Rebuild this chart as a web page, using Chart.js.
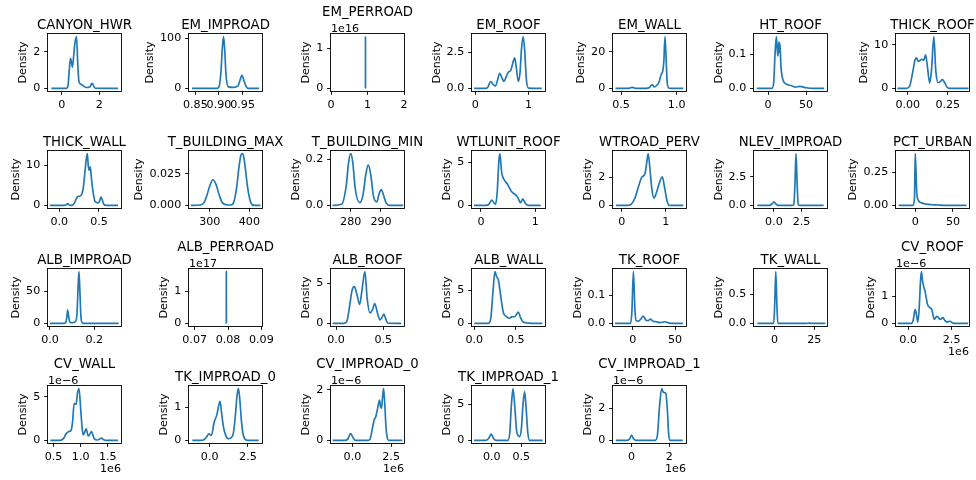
<!DOCTYPE html>
<html>
<head>
<meta charset="utf-8">
<script src="https://cdn.jsdelivr.net/npm/chart.js@4"></script>
<style>
  body { margin: 0; background: #fff; width: 976px; height: 480px; position: relative; overflow: hidden; }
  canvas { position: absolute; }
</style>
</head>
<body>
<script>
/* [ Density curves] */
const CANYON_HWR_x = [-0.55, 0.25, 0.33, 0.4, 0.47, 0.53, 0.57, 0.63, 0.7, 0.79, 0.86, 0.92, 1.05, 1.3, 1.5, 1.58, 1.63, 1.7, 1.8, 3.0];
const CANYON_HWR_y = [0, 0, 0.1, 0.95, 1.63, 1.36, 1.15, 1.68, 2.42, 2.82, 1.26, 0.37, 0.21, 0.05, 0.08, 0.23, 0.28, 0.13, 0.01, 0];

const EM_IMPROAD_x = [0.843, 0.895, 0.9, 0.904, 0.907, 0.9095, 0.912, 0.915, 0.92, 0.93, 0.94, 0.944, 0.9486, 0.953, 0.958, 0.962, 0.985];
const EM_IMPROAD_y = [0, 0, 3, 31, 79, 104, 79, 26, 3, 2, 5, 15, 26, 15, 3, 0, 0];

const EM_PERROAD_x = [0.944, 0.9445, 0.945];
const EM_PERROAD_y = [0, 1.29, 0];

const EM_ROOF_x = [-0.02, 0.2, 0.24, 0.29, 0.34, 0.38, 0.42, 0.46, 0.5, 0.54, 0.58, 0.62, 0.67, 0.71, 0.74, 0.77, 0.81, 0.84, 0.87, 0.9, 0.93, 0.96, 1.0, 1.25];
const EM_ROOF_y = [0, 0, 0.1, 0.48, 0.27, 0.16, 0.59, 1.05, 0.75, 0.48, 0.8, 1.12, 1.28, 1.82, 2.12, 1.5, 0.48, 1.07, 2.78, 3.6, 2.57, 0.64, 0.02, 0];

const EM_WALL_x = [0.45, 0.57, 0.6, 0.63, 0.7, 0.75, 0.78, 0.8, 0.82, 0.84, 0.86, 0.875, 0.885, 0.895, 0.905, 0.915, 0.93, 0.95, 1.06];
const EM_WALL_y = [0, 0, 0.6, 0, 0, 0.3, 2.1, 0.8, 1.6, 3.2, 7.4, 9.5, 14.7, 28.2, 16.8, 3.2, 0.2, 0, 0];

const HT_ROOF_x = [-15, 5, 7.5, 9, 10.9, 12, 13, 14.3, 15, 15.6, 17, 19.5, 22, 26, 32, 36, 42, 50, 60, 74];
const HT_ROOF_y = [0, 0, 0.02, 0.095, 0.152, 0.116, 0.095, 0.137, 0.106, 0.132, 0.063, 0.026, 0.016, 0.011, 0.007, 0.004, 0.006, 0.002, 0, 0];

const THICK_ROOF_x = [-0.065, -0.01, 0.01, 0.03, 0.045, 0.055, 0.065, 0.075, 0.087, 0.1, 0.111, 0.122, 0.137, 0.148, 0.163, 0.175, 0.19, 0.2, 0.215, 0.228, 0.245, 0.26, 0.38];
const THICK_ROOF_y = [0, 0, 0.4, 3.6, 6.5, 7.0, 6.2, 6.4, 6.7, 6.5, 7.7, 5.2, 1.25, 4.1, 11.9, 4.1, 1.35, 1.45, 2.0, 1.55, 0.3, 0, 0];

const THICK_WALL_x = [-0.12, 0.06, 0.09, 0.105, 0.12, 0.15, 0.18, 0.2, 0.227, 0.25, 0.28, 0.3, 0.32, 0.335, 0.353, 0.365, 0.375, 0.39, 0.405, 0.42, 0.45, 0.49, 0.51, 0.525, 0.54, 0.56, 0.59, 0.74];
const THICK_WALL_y = [0, 0, 0.2, 0.46, 0.2, 0, 0.3, 1.03, 2.06, 2.27, 2.68, 4.1, 7.7, 10.8, 12.9, 9.8, 8.8, 9.6, 6.7, 4.1, 1.03, 0.62, 1.24, 2.06, 1.44, 0.3, 0, 0];

const T_BUILDING_MAX_x = [252, 275, 285, 292, 300, 308, 316, 324, 332, 345, 355, 362, 368, 374, 378, 382, 386, 390, 396, 404, 412, 428];
const T_BUILDING_MAX_y = [0, 0.0003, 0.002, 0.0072, 0.0154, 0.0203, 0.0164, 0.0082, 0.002, 0.0003, 0.0005, 0.0041, 0.0144, 0.0308, 0.039, 0.041, 0.038, 0.0287, 0.0133, 0.002, 0, 0];

const T_BUILDING_MIN_x = [274, 277, 278.5, 279.3, 280, 280.7, 281.5, 283, 284, 285, 285.8, 286.6, 287.5, 288.6, 289.4, 290.1, 290.8, 291.7, 293, 297.3];
const T_BUILDING_MIN_y = [0, 0.005, 0.082, 0.185, 0.224, 0.185, 0.072, 0.012, 0.041, 0.134, 0.175, 0.134, 0.041, 0.015, 0.051, 0.068, 0.046, 0.01, 0, 0];

const WTLUNIT_ROOF_x = [-0.127, 0.1, 0.15, 0.2, 0.24, 0.27, 0.3, 0.33, 0.35, 0.38, 0.42, 0.49, 0.56, 0.64, 0.68, 0.73, 0.77, 0.81, 0.85, 0.9, 1.1];
const WTLUNIT_ROOF_y = [0, 0, 0.15, 0.62, 0.31, 0.15, 1.54, 5.13, 6.05, 3.9, 3.08, 2.46, 1.64, 1.23, 0.92, 0.31, 0.78, 0.31, 0.05, 0, 0];

const WTROAD_PERV_x = [-0.13, 0.15, 0.22, 0.3, 0.38, 0.45, 0.53, 0.57, 0.6, 0.64, 0.68, 0.73, 0.78, 0.84, 0.92, 0.98, 1.03, 1.08, 1.4];
const WTROAD_PERV_y = [0, 0, 0.1, 0.52, 1.34, 1.96, 2.27, 3.09, 3.65, 2.58, 1.24, 0.52, 0.82, 1.44, 2.01, 1.13, 0.31, 0, 0];

const NLEV_IMPROAD_x = [-1.5, -0.4, -0.2, 0, 0.2, 0.4, 1.6, 1.8, 1.9, 2.0, 2.1, 2.2, 2.4, 4.5];
const NLEV_IMPROAD_y = [0, 0, 0.1, 0.31, 0.1, 0, 0, 0.05, 1.85, 4.55, 1.85, 0.05, 0, 0];

const PCT_URBAN_x = [-22, -3, -1, 0, 1, 2, 4, 8, 14, 22, 30, 40, 68];
const PCT_URBAN_y = [0, 0, 0.05, 0.39, 0.26, 0.1, 0.04, 0.02, 0.01, 0.005, 0.003, 0, 0];

const ALB_IMPROAD_x = [0.0, 0.065, 0.072, 0.077, 0.08, 0.084, 0.09, 0.1, 0.115, 0.122, 0.127, 0.131, 0.135, 0.14, 0.147, 0.16, 0.31];
const ALB_IMPROAD_y = [0, 0, 2, 12, 20.5, 12, 2, 1, 3, 15, 56, 80, 51, 10, 0.5, 0, 0];

const ALB_PERROAD_x = [0.07949, 0.0795, 0.07951];
const ALB_PERROAD_y = [0, 1.6, 0];

const ALB_ROOF_x = [-0.035, 0.08, 0.113, 0.14, 0.17, 0.194, 0.22, 0.25, 0.275, 0.306, 0.33, 0.36, 0.385, 0.41, 0.44, 0.465, 0.49, 0.507, 0.525, 0.55, 0.69];
const ALB_ROOF_y = [0, 0, 0.2, 1.85, 4.12, 4.58, 3.7, 2.37, 4.12, 6.46, 3.1, 1.31, 1.65, 2.47, 1.24, 0.43, 0.82, 1.17, 0.62, 0.02, 0];

const ALB_WALL_x = [0.0, 0.17, 0.2, 0.225, 0.25, 0.27, 0.29, 0.31, 0.33, 0.35, 0.39, 0.42, 0.45, 0.49, 0.53, 0.56, 0.59, 0.65, 0.7, 0.82];
const ALB_WALL_y = [0, 0, 0.82, 4.63, 7.77, 7.0, 6.6, 4.94, 3.15, 1.65, 1.03, 0.77, 0.98, 1.03, 1.68, 0.82, 0.2, 0.05, 0, 0];

const TK_ROOF_x = [-21, -2.5, -1, 0.8, 2.6, 4, 6.6, 9.5, 12.5, 15.5, 18, 21, 24, 28, 32, 35, 38, 42, 48, 59.4];
const TK_ROOF_y = [0, 0, 0.04, 0.185, 0.05, 0.01, 0.008, 0.015, 0.026, 0.012, 0.01, 0.015, 0.008, 0.006, 0.003, 0.004, 0.006, 0.002, 0, 0];

const TK_WALL_x = [-10.8, -0.5, 0.1, 0.8, 1.5, 2.1, 20, 21.9, 23.8, 31.9];
const TK_WALL_y = [0, 0, 0.31, 0.895, 0.31, 0, 0, 0.006, 0, 0];

const CV_ROOF_x = [-0.6, 0.2, 0.3, 0.4, 0.48, 0.56, 0.64, 0.7, 0.76, 0.83, 0.9, 0.99, 1.1, 1.24, 1.36, 1.5, 1.64, 1.74, 1.84, 2.0, 2.12, 2.24, 2.4, 2.55, 2.64, 3.44];
const CV_ROOF_y = [0, 0, 0.15, 0.51, 0.31, 0.05, 0.62, 1.44, 1.9, 1.54, 1.34, 1.13, 0.72, 0.58, 0.51, 0.15, 0.26, 0.21, 0.15, 0.21, 0.1, 0.05, 0.08, 0.02, 0, 0];

const CV_WALL_x = [0.44, 0.62, 0.68, 0.73, 0.78, 0.82, 0.85, 0.88, 0.917, 0.94, 0.97, 1.0, 1.03, 1.05, 1.08, 1.1, 1.14, 1.17, 1.2, 1.25, 1.31, 1.35, 1.38, 1.42, 1.46, 1.69];
const CV_WALL_y = [0, 0, 0.2, 0.72, 1.01, 1.14, 2.07, 4.24, 4.13, 5.37, 5.93, 3.62, 1.24, 0.62, 1.03, 1.33, 0.52, 0.72, 1.01, 0.2, 0.05, 0.15, 0.26, 0.1, 0, 0];

const TK_IMPROAD_0_x = [-1.13, -0.6, -0.38, -0.2, -0.06, 0.11, 0.3, 0.47, 0.58, 0.68, 0.78, 0.9, 1.05, 1.22, 1.4, 1.54, 1.63, 1.71, 1.8, 1.88, 1.97, 2.07, 2.18, 2.29, 2.5, 3.2];
const TK_IMPROAD_0_y = [0, 0, 0.02, 0.1, 0.2, 0.15, 0.56, 0.77, 1.03, 1.18, 0.82, 0.41, 0.15, 0.05, 0.08, 0.2, 0.51, 0.92, 1.39, 1.56, 1.23, 0.62, 0.2, 0.05, 0, 0];

const CV_IMPROAD_0_x = [-1.27, -0.5, -0.3, -0.11, 0.05, 0.2, 1.0, 1.14, 1.3, 1.42, 1.5, 1.58, 1.68, 1.75, 1.82, 1.88, 1.95, 2.01, 2.08, 2.17, 2.25, 2.34, 3.22];
const CV_IMPROAD_0_y = [0, 0, 0.05, 0.27, 0.1, 0, 0, 0.05, 0.51, 0.84, 0.92, 1.13, 1.43, 1.6, 1.33, 1.28, 1.74, 2.05, 1.54, 0.51, 0.1, 0, 0];

const TK_IMPROAD_1_x = [-0.3, -0.1, -0.05, -0.01, 0.03, 0.07, 0.27, 0.305, 0.33, 0.36, 0.39, 0.42, 0.45, 0.47, 0.5, 0.53, 0.555, 0.58, 0.61, 0.64, 0.86];
const TK_IMPROAD_1_y = [0, 0, 0.3, 0.88, 0.3, 0, 0, 1.03, 4.63, 7.2, 4.63, 1.34, 0.62, 0.52, 1.55, 5.15, 6.77, 4.63, 1.03, 0, 0];

const CV_IMPROAD_1_x = [-0.84, -0.25, -0.1, 0, 0.1, 0.25, 1.25, 1.37, 1.48, 1.6, 1.67, 1.73, 1.82, 1.9, 1.96, 2.03, 2.71];
const CV_IMPROAD_1_y = [0, 0, 0.1, 0.33, 0.1, 0, 0, 0.31, 2.07, 3.2, 3.0, 2.95, 2.9, 1.86, 0.52, 0, 0];

/* [ Axes: limits, ticks, offsets ] */
const panels = [
  {name: 'CANYON_HWR', x: CANYON_HWR_x, y: CANYON_HWR_y, xlim: [-0.73, 3.16], xt: [0, 2], xd: 0, yt: [0, 2], yd: 0},
  {name: 'EM_IMPROAD', x: EM_IMPROAD_x, y: EM_IMPROAD_y, xlim: [0.8366, 0.991], xt: [0.85, 0.9, 0.95], xd: 2, yt: [0, 100], yd: 0},
  {name: 'EM_PERROAD', x: EM_PERROAD_x, y: EM_PERROAD_y, xlim: [0, 2], xt: [0, 1, 2], xd: 0, yt: [0, 1], yd: 0, yoff: '1e16'},
  {name: 'EM_ROOF', x: EM_ROOF_x, y: EM_ROOF_y, xlim: [-0.06, 1.31], xt: [0, 1], xd: 0, yt: [0, 2.5], yd: 1},
  {name: 'EM_WALL', x: EM_WALL_x, y: EM_WALL_y, xlim: [0.428, 1.084], xt: [0.5, 1.0], xd: 1, yt: [0, 20], yd: 0},
  {name: 'HT_ROOF', x: HT_ROOF_x, y: HT_ROOF_y, xlim: [-18.6, 77.7], xt: [0, 50], xd: 0, yt: [0, 0.1], yd: 1},
  {name: 'THICK_ROOF', x: THICK_ROOF_x, y: THICK_ROOF_y, xlim: [-0.074, 0.383], xt: [0, 0.25], xd: 2, yt: [0, 10], yd: 0},

  {name: 'THICK_WALL', x: THICK_WALL_x, y: THICK_WALL_y, xlim: [-0.142, 0.777], xt: [0, 0.5], xd: 1, yt: [0, 10], yd: 0},
  {name: 'T_BUILDING_MAX', x: T_BUILDING_MAX_x, y: T_BUILDING_MAX_y, xlim: [247.6, 431.9], xt: [300, 400], xd: 0, yt: [0, 0.025], yd: 3},
  {name: 'T_BUILDING_MIN', x: T_BUILDING_MIN_x, y: T_BUILDING_MIN_y, xlim: [273.5, 297.6], xt: [280, 290], xd: 0, yt: [0, 0.2], yd: 1},
  {name: 'WTLUNIT_ROOF', x: WTLUNIT_ROOF_x, y: WTLUNIT_ROOF_y, xlim: [-0.164, 1.18], xt: [0, 1], xd: 0, yt: [0, 5], yd: 0},
  {name: 'WTROAD_PERV', x: WTROAD_PERV_x, y: WTROAD_PERV_y, xlim: [-0.2, 1.46], xt: [0, 1], xd: 0, yt: [0, 2], yd: 0},
  {name: 'NLEV_IMPROAD', x: NLEV_IMPROAD_x, y: NLEV_IMPROAD_y, xlim: [-1.8, 4.8], xt: [0, 2.5], xd: 1, yt: [0, 2.5], yd: 1},
  {name: 'PCT_URBAN', x: PCT_URBAN_x, y: PCT_URBAN_y, xlim: [-25.5, 71.3], xt: [0, 50], xd: 0, yt: [0, 0.25], yd: 2},

  {name: 'ALB_IMPROAD', x: ALB_IMPROAD_x, y: ALB_IMPROAD_y, xlim: [-0.009, 0.321], xt: [0, 0.2], xd: 1, yt: [0, 50], yd: 0},
  {name: 'ALB_PERROAD', x: ALB_PERROAD_x, y: ALB_PERROAD_y, xlim: [0.0683, 0.0902], xt: [0.07, 0.08, 0.09], xd: 2, yt: [0, 1], yd: 0, yoff: '1e17'},
  {name: 'ALB_ROOF', x: ALB_ROOF_x, y: ALB_ROOF_y, xlim: [-0.053, 0.72], xt: [0, 0.5], xd: 1, yt: [0, 5], yd: 0},
  {name: 'ALB_WALL', x: ALB_WALL_x, y: ALB_WALL_y, xlim: [-0.027, 0.853], xt: [0, 0.5], xd: 1, yt: [0, 5], yd: 0},
  {name: 'TK_ROOF', x: TK_ROOF_x, y: TK_ROOF_y, xlim: [-23.3, 63], xt: [0, 50], xd: 0, yt: [0, 0.1], yd: 1},
  {name: 'TK_WALL', x: TK_WALL_x, y: TK_WALL_y, xlim: [-12.9, 33], xt: [0, 25], xd: 0, yt: [0, 0.5], yd: 1},
  {name: 'CV_ROOF', x: CV_ROOF_x, y: CV_ROOF_y, xlim: [-0.7, 3.5], xt: [0, 2.5], xd: 1, yt: [0, 1], yd: 0, yoff: '1e\u22126', xoff: '1e6'},

  {name: 'CV_WALL', x: CV_WALL_x, y: CV_WALL_y, xlim: [0.397, 1.745], xt: [0.5, 1.0, 1.5], xd: 1, yt: [0, 5], yd: 0, yoff: '1e\u22126', xoff: '1e6'},
  {name: 'TK_IMPROAD_0', x: TK_IMPROAD_0_x, y: TK_IMPROAD_0_y, xlim: [-1.35, 3.42], xt: [0, 2.5], xd: 1, yt: [0, 1], yd: 0},
  {name: 'CV_IMPROAD_0', x: CV_IMPROAD_0_x, y: CV_IMPROAD_0_y, xlim: [-1.38, 3.33], xt: [0, 2.5], xd: 1, yt: [0, 2], yd: 0, yoff: '1e\u22126', xoff: '1e6'},
  {name: 'TK_IMPROAD_1', x: TK_IMPROAD_1_x, y: TK_IMPROAD_1_y, xlim: [-0.333, 0.9], xt: [0, 0.5], xd: 1, yt: [0, 5], yd: 0},
  {name: 'CV_IMPROAD_1', x: CV_IMPROAD_1_x, y: CV_IMPROAD_1_y, xlim: [-0.99, 2.89], xt: [0, 2], xd: 0, yt: [0, 2], yd: 0, yoff: '1e\u22126', xoff: '1e6'}
];

/* [ Grid layout ] */
const colLeft = [48, 189, 331, 472, 613, 754, 896];
const rowTop = [34, 151, 269, 386];
const BW = 73, BH = 57;      // plot box
const PL = 70, PT = 34;      // box offset inside each canvas
const CW = 180, CH = 126;    // canvas size
const FONT = 'DejaVu Sans';
const TICK = 3.9;
const SMALL = 11.1, BIG = 13.3;

/* [ Box, title, offset texts, ylabel ] */
const frame = {
  id: 'frame',
  afterDraw(chart, args, o) {
    const ctx = chart.ctx, a = chart.chartArea;
    ctx.save();
    ctx.strokeStyle = '#000';
    ctx.lineWidth = 0.9;
    ctx.strokeRect(Math.round(a.left) - 0.5, Math.round(a.top) - 0.5, a.right - a.left + 1, a.bottom - a.top + 1);
    ctx.fillStyle = '#000';
    ctx.font = BIG + 'px "' + FONT + '"';
    ctx.textAlign = 'center';
    ctx.textBaseline = 'alphabetic';
    ctx.fillText(o.title, (a.left + a.right) / 2, a.top - (o.yoff ? 18.5 : 5.5));
    ctx.font = SMALL + 'px "' + FONT + '"';
    if (o.yoff) {
      ctx.textAlign = 'left';
      ctx.fillText(o.yoff, a.left, a.top - 2);
    }
    if (o.xoff) {
      ctx.textAlign = 'right';
      ctx.textBaseline = 'middle';
      ctx.fillText(o.xoff, a.right, a.bottom + 26);
    }
    let w = 0;
    chart.scales.y.ticks.forEach(t => { w = Math.max(w, ctx.measureText(t.label).width); });
    ctx.translate(a.left - 2 * TICK - w - 4.4, (a.top + a.bottom) / 2);
    ctx.rotate(-Math.PI / 2);
    ctx.textAlign = 'center';
    ctx.textBaseline = 'bottom';
    ctx.fillText('Density', 0, 0);
    ctx.restore();
  }
};

function axis(min, max, vals, dec, isX) {
  return {
    type: 'linear',
    min: min,
    max: max,
    border: {display: false},
    grid: {drawOnChartArea: false, drawTicks: true, tickLength: TICK, color: '#000', lineWidth: 0.9},
    ticks: {
      autoSkip: false, maxRotation: 0, minRotation: 0, padding: TICK, color: '#000',
      font: {family: FONT, size: SMALL},
      callback: v => Number(v).toFixed(dec)
    },
    afterBuildTicks: s => { s.ticks = vals.map(v => ({value: v})); },
    afterFit: s => {
      if (isX) { s.height = CH - PT - BH; s.paddingLeft = 0; s.paddingRight = 0; }
      else { s.width = PL; s.paddingTop = 0; s.paddingBottom = 0; }
    }
  };
}

panels.forEach((p, i) => {
  const cv = document.createElement('canvas');
  cv.width = CW;
  cv.height = CH;
  cv.style.left = (colLeft[i % 7] - PL) + 'px';
  cv.style.top = (rowTop[Math.floor(i / 7)] - PT) + 'px';
  cv.style.width = CW + 'px';
  cv.style.height = CH + 'px';
  document.body.appendChild(cv);

  const peak = Math.max(...p.y);
  new Chart(cv.getContext('2d'), {
    type: 'line',
    data: {
      datasets: [{
        data: p.x.map((v, k) => ({x: v, y: p.y[k]})),
        borderColor: '#1f77b4',
        borderWidth: 1.67,
        pointRadius: 0,
        fill: false,
        cubicInterpolationMode: 'monotone'
      }]
    },
    options: {
      responsive: false,
      animation: false,
      devicePixelRatio: 1,
      layout: {padding: {left: 0, top: PT, right: CW - PL - BW, bottom: 0}},
      plugins: {
        legend: {display: false},
        tooltip: {enabled: false},
        frame: {title: p.name, yoff: p.yoff, xoff: p.xoff}
      },
      scales: {
        x: axis(p.xlim[0], p.xlim[1], p.xt, p.xd, true),
        y: axis(-0.05 * peak, 1.05 * peak, p.yt, p.yd, false)
      }
    },
    plugins: [frame]
  });
});
</script>
</body>
</html>
